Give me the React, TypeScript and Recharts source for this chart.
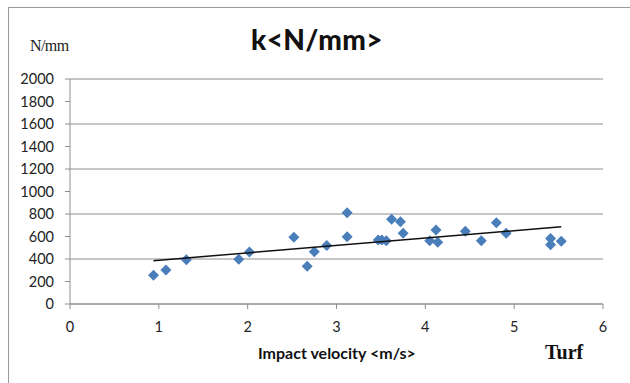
import { ScatterChart, Scatter, XAxis, YAxis, CartesianGrid } from "recharts";

// measured points (impact velocity m/s, stiffness N/mm)
const velocity = [
  0.94, 1.08, 1.31, 1.9, 2.02, 2.52, 2.67, 2.75, 2.89, 3.12, 3.12, 3.47, 3.51,
  3.56, 3.62, 3.72, 3.75, 4.05, 4.12, 4.14, 4.45, 4.63, 4.8, 4.91, 5.41, 5.41,
  5.53,
];
const stiffness = [
  255, 302, 394, 397, 462, 593, 335, 465, 519, 812, 598, 569, 569, 563, 753,
  732, 628, 563, 658, 548, 646, 563, 723, 628, 583, 527, 557,
];
const trendX = [0.94, 5.53];
const trendY = [385, 687];
const xTicks = [0, 1, 2, 3, 4, 5, 6];
const yTicks = [0, 200, 400, 600, 800, 1000, 1200, 1400, 1600, 1800, 2000];

const points = velocity.map((v, i) => ({ x: v, y: stiffness[i] }));
const trend = trendX.map((v, i) => ({ x: v, y: trendY[i] }));

const BLUE = "#4a7ebb";
const GRID = "#8e8e8e";
const FONT = "Lato, 'Open Sans', sans-serif";

function Diamond(props: any) {
  const { cx, cy } = props;
  const r = 5.5;
  return (
    <polygon
      points={`${cx},${cy - r} ${cx + r},${cy} ${cx},${cy + r} ${cx - r},${cy}`}
      fill={BLUE}
    />
  );
}

export default function App() {
  return (
    <div
      style={{
        position: "absolute",
        left: 0,
        top: 0,
        width: 630,
        height: 383,
        background: "#fff",
        fontFamily: FONT,
      }}
    >
      {/* frame */}
      <div
        style={{
          position: "absolute",
          left: 8,
          top: 7,
          width: 640,
          height: 400,
          borderLeft: "1.5px solid #9a9a9a",
          borderTop: "1.5px solid #9a9a9a",
        }}
      />
      <div
        style={{
          position: "absolute",
          left: 30,
          top: 37,
          fontFamily: "'Liberation Serif', 'DejaVu Serif', serif",
          fontSize: 16,
          letterSpacing: -0.6,
          color: "#222",
        }}
      >
        N/mm
      </div>
      <div
        style={{
          position: "absolute",
          left: 251,
          top: 22,
          fontSize: 28,
          fontWeight: 900,
          letterSpacing: 0.4,
          color: "#111",
        }}
      >
        k&lt;N/mm&gt;
      </div>

      <div style={{ position: "absolute", left: 0, top: 0 }}>
        <ScatterChart
          width={630}
          height={383}
          margin={{ top: 79, right: 27, bottom: 49, left: 10 }}
        >
          <CartesianGrid vertical={false} stroke={GRID} strokeWidth={1} />
          <XAxis
            type="number"
            dataKey="x"
            domain={[0, 6]}
            ticks={xTicks}
            height={30}
            stroke={GRID}
            tickSize={5}
            tickMargin={13}
            tick={{ fontSize: 14.5, fill: "#222", fontFamily: FONT }}
          />
          <YAxis
            type="number"
            dataKey="y"
            domain={[0, 2000]}
            ticks={yTicks}
            width={60}
            stroke={GRID}
            tickSize={5}
            tickMargin={11}
            tick={{ fontSize: 14.5, fill: "#222", fontFamily: FONT }}
          />
          <Scatter
            data={points}
            shape={<Diamond />}
            isAnimationActive={false}
          />
          <Scatter
            data={trend}
            line={{ stroke: "#111", strokeWidth: 1.5 }}
            shape={() => <g />}
            isAnimationActive={false}
          />
        </ScatterChart>
      </div>

      <div
        style={{
          position: "absolute",
          left: 258,
          top: 343,
          fontSize: 16,
          fontWeight: 700,
          color: "#111",
        }}
      >
        Impact velocity &lt;m/s&gt;
      </div>
      <div
        style={{
          position: "absolute",
          left: 545,
          top: 341,
          fontFamily: "'Liberation Serif', 'DejaVu Serif', serif",
          fontSize: 20,
          fontWeight: 700,
          color: "#111",
        }}
      >
        Turf
      </div>
    </div>
  );
}
